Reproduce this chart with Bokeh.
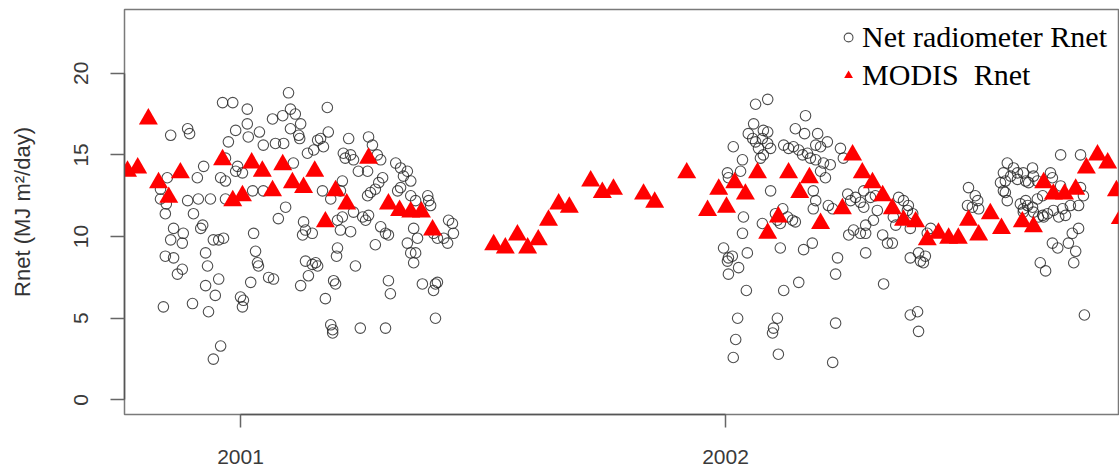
from bokeh.plotting import figure
from bokeh.models import FixedTicker, Legend, LegendItem, Range1d
from bokeh.embed import file_html
from bokeh.resources import INLINE

# Net radiometer Rnet (daily), x = decimal year, y = MJ m-2 day-1
net_year = [
    2001.099, 2000.963, 2000.984, 2001.014, 2001.103, 2001.113, 2001.066, 2001.087, 2001.014, 2000.990,
    2000.856, 2000.891, 2000.895, 2001.039, 2001.016, 2001.103, 2001.120, 2001.122, 2000.975, 2001.047,
    2001.072, 2001.089, 2001.138, 2000.969, 2000.924, 2000.911, 2000.849, 2000.959, 2000.969, 2001.004,
    2000.990, 2000.994, 2001.109, 2001.025, 2001.047, 2000.835, 2000.847, 2000.845, 2000.891, 2000.913,
    2000.938, 2000.903, 2000.969, 2001.093, 2001.078, 2001.130, 2001.128, 2000.922, 2000.918, 2000.862,
    2000.882, 2000.856, 2000.880, 2000.944, 2000.965, 2000.955, 2001.027, 2000.845, 2000.862, 2000.928,
    2001.031, 2000.932, 2001.035, 2001.037, 2000.880, 2000.870, 2001.134, 2000.955, 2000.928, 2001.058,
    2001.068, 2001.021, 2001.124, 2000.948, 2001.000, 2001.006, 2001.004, 2000.841, 2000.901, 2000.934,
    2000.959, 2000.944, 2000.835,
    2001.179, 2001.181, 2001.159, 2001.151, 2001.171, 2001.165, 2001.223, 2001.264, 2001.272, 2001.212,
    2001.227, 2001.233, 2001.216, 2001.282, 2001.289, 2001.320, 2001.330, 2001.336, 2001.344, 2001.351,
    2001.243, 2001.262, 2001.293, 2001.285, 2001.210, 2001.206, 2001.169, 2001.186, 2001.124, 2001.262,
    2001.268, 2001.278, 2001.324, 2001.330, 2001.351, 2001.361, 2001.386, 2001.388, 2001.392, 2001.233,
    2001.252, 2001.264, 2001.258, 2001.210, 2001.200, 2001.134, 2001.148, 2001.206, 2001.227, 2001.289,
    2001.299, 2001.305, 2001.357, 2001.365, 2001.429, 2001.437, 2001.439, 2001.427, 2001.419, 2001.406,
    2001.398, 2001.344, 2001.278, 2001.200, 2001.198, 2001.351, 2001.361, 2001.357, 2001.155, 2001.159,
    2001.148, 2001.237, 2001.140, 2001.196, 2001.192, 2001.305, 2001.309, 2001.375, 2001.402, 2001.398,
    2001.406, 2001.175, 2001.186, 2001.190, 2001.190, 2001.247, 2001.299, 2001.402,
    2002.062, 2002.087, 2002.058, 2002.078, 2002.087, 2002.047, 2002.056, 2002.062, 2002.076, 2002.068,
    2002.093, 2002.087, 2002.072, 2002.078, 2002.016, 2002.035, 2002.031, 2002.004, 2002.006, 2002.165,
    2002.144, 2002.163, 2002.190, 2002.210, 2002.196, 2002.186, 2002.120, 2002.130, 2002.140, 2002.151,
    2002.159, 2002.169, 2002.175, 2002.186, 2002.202, 2002.216, 2002.196, 2002.206, 2002.237, 2002.243,
    2002.093, 2002.181, 2002.186, 2002.181, 2002.212, 2002.221, 2002.252, 2002.268, 2002.278, 2002.285,
    2002.258, 2002.037, 2002.035, 2002.076, 2002.103, 2002.118, 2002.128, 2002.138, 2002.144, 2002.107,
    2002.113, 2002.254, 2002.264, 2002.278, 2002.289, 2002.289, 2002.179, 2002.161, 2002.113, 2002.045,
    2001.996, 2002.006, 2002.004, 2002.014, 2002.027, 2002.006, 2002.231, 2002.227, 2002.151, 2002.043,
    2002.120, 2002.025, 2002.021, 2002.016, 2002.107, 2002.099, 2002.097, 2002.109, 2002.227, 2002.221,
    2002.501, 2002.515, 2002.520, 2002.499, 2002.509, 2002.522, 2002.581, 2002.594, 2002.602, 2002.614,
    2002.619, 2002.573, 2002.567, 2002.577, 2002.581, 2002.608, 2002.614, 2002.285, 2002.299, 2002.309,
    2002.357, 2002.367, 2002.377, 2002.386, 2002.375, 2002.313, 2002.305, 2002.289, 2002.346, 2002.351,
    2002.381, 2002.324, 2002.334, 2002.344, 2002.423, 2002.416, 2002.381, 2002.398, 2002.412, 2002.402,
    2002.408, 2002.326, 2002.381, 2002.396, 2002.398,
    2002.691, 2002.732, 2002.588, 2002.577, 2002.602, 2002.633, 2002.635, 2002.643, 2002.670, 2002.674,
    2002.625, 2002.573, 2002.619, 2002.623, 2002.633, 2002.643, 2002.654, 2002.691, 2002.732, 2002.738,
    2002.728, 2002.711, 2002.695, 2002.676, 2002.664, 2002.654, 2002.701, 2002.687, 2002.614, 2002.635,
    2002.645, 2002.656, 2002.728, 2002.715, 2002.707, 2002.722, 2002.718, 2002.674, 2002.685, 2002.649,
    2002.660, 2002.740,
]
net_rnet = [
    18.8, 18.2, 18.2, 17.8, 17.8, 17.5, 17.2, 17.4, 16.9, 16.5,
    16.2, 16.6, 16.3, 16.4, 16.1, 16.6, 16.2, 16.0, 15.8, 15.6,
    15.7, 15.7, 15.1, 14.8, 14.3, 13.6, 13.6, 13.6, 13.4, 13.9,
    14.0, 14.3, 14.5, 12.8, 12.8, 12.3, 12.0, 11.4, 12.2, 12.3,
    12.3, 11.4, 12.3, 11.8, 11.1, 10.9, 10.1, 10.7, 10.5, 10.5,
    10.2, 9.8, 9.6, 9.8, 9.9, 9.8, 10.2, 8.8, 8.7, 9.0,
    9.1, 8.2, 8.4, 8.2, 8.0, 7.7, 8.5, 7.4, 7.0, 7.5,
    7.4, 7.2, 7.0, 6.4, 6.3, 6.1, 5.7, 5.7, 5.9, 5.4,
    3.3, 2.5, 12.9,
    17.9, 16.4, 15.9, 15.3, 15.5, 16.0, 16.0, 16.1, 15.6, 15.1,
    15.0, 14.7, 14.8, 15.0, 14.7, 14.5, 14.2, 13.7, 14.0, 13.4,
    14.0, 14.0, 13.6, 13.3, 13.4, 12.8, 12.8, 12.3, 16.9, 12.5,
    12.7, 12.9, 12.8, 13.0, 12.5, 12.2, 12.5, 12.2, 11.9, 11.5,
    11.2, 11.3, 11.0, 11.2, 11.0, 10.4, 10.2, 10.4, 10.3, 10.6,
    10.2, 10.1, 10.5, 9.9, 11.0, 10.8, 10.2, 9.6, 9.9, 9.9,
    10.2, 9.6, 9.5, 9.3, 8.8, 9.0, 9.0, 8.4, 8.4, 8.2,
    8.3, 8.2, 7.6, 7.1, 7.3, 7.3, 6.5, 7.1, 7.1, 6.7,
    7.2, 6.2, 4.6, 4.1, 4.3, 4.4, 4.4, 5.0,
    18.1, 18.4, 16.9, 16.5, 16.4, 16.3, 16.0, 15.8, 16.0, 15.4,
    15.4, 15.7, 14.8, 15.0, 15.5, 14.7, 14.0, 13.9, 13.6, 17.4,
    16.6, 16.3, 16.3, 15.8, 15.5, 15.6, 15.6, 15.4, 15.5, 15.3,
    15.0, 15.1, 14.8, 14.7, 14.5, 14.4, 14.0, 13.6, 15.4, 14.8,
    12.8, 12.8, 12.2, 11.7, 11.9, 11.7, 12.6, 12.4, 12.1, 11.8,
    12.2, 11.2, 10.2, 10.8, 11.4, 11.7, 11.2, 11.0, 10.9, 11.0,
    10.8, 10.1, 10.4, 10.2, 10.7, 9.0, 9.6, 9.2, 9.3, 9.0,
    9.3, 8.7, 8.5, 8.8, 8.1, 7.7, 8.7, 7.7, 7.2, 6.7,
    6.7, 5.0, 3.7, 2.6, 5.0, 4.4, 4.1, 2.8, 4.7, 2.3,
    13.0, 12.5, 12.2, 11.9, 11.8, 11.7, 14.5, 14.2, 13.9, 13.9,
    13.4, 13.9, 13.3, 12.7, 12.2, 12.0, 11.7, 12.8, 12.4, 12.5,
    12.4, 12.2, 11.9, 11.4, 11.6, 11.6, 11.0, 10.2, 11.2, 10.7,
    10.5, 10.1, 9.6, 9.6, 10.5, 10.2, 8.7, 9.0, 8.8, 8.5,
    8.4, 7.1, 5.2, 5.4, 4.2,
    15.0, 15.0, 13.7, 13.4, 13.5, 14.2, 13.7, 13.4, 13.9, 13.6,
    13.3, 12.8, 12.2, 11.9, 11.8, 12.3, 12.5, 13.1, 13.0, 12.5,
    11.9, 11.9, 11.7, 11.6, 11.4, 11.3, 11.3, 11.2, 11.5, 11.5,
    11.2, 11.2, 10.5, 10.2, 9.6, 9.1, 8.4, 9.6, 9.3, 8.4,
    7.9, 5.2,
]

# MODIS Rnet (8-day composites)
modis_year = [
    2000.767, 2000.788, 2000.810, 2000.831, 2000.852, 2000.876, 2000.963, 2000.984, 2001.004, 2001.023,
    2001.045, 2001.066, 2001.087, 2001.107, 2001.130, 2001.153, 2001.175, 2001.196, 2001.219, 2001.264,
    2001.305, 2001.328, 2001.351, 2001.373, 2001.396, 2001.522, 2001.546, 2001.571, 2001.592, 2001.614,
    2001.635, 2001.656, 2001.678, 2001.722, 2001.746, 2001.769, 2001.831, 2001.854, 2001.920, 2001.963,
    2001.986, 2002.002, 2002.019, 2002.041, 2002.066, 2002.087, 2002.109, 2002.130, 2002.153, 2002.173,
    2002.196, 2002.241, 2002.262, 2002.282, 2002.303, 2002.324, 2002.344, 2002.367, 2002.392, 2002.416,
    2002.439, 2002.460, 2002.480, 2002.501, 2002.522, 2002.546, 2002.569, 2002.612, 2002.635, 2002.656,
    2002.676, 2002.699, 2002.722, 2002.744, 2002.767, 2002.788, 2002.806, 2002.814,
]
modis_rnet = [
    14.0, 14.2, 17.2, 13.3, 12.4, 13.9, 14.7, 12.2, 12.5, 14.5,
    14.0, 12.8, 14.4, 13.3, 13.0, 14.0, 10.9, 12.8, 12.0, 14.8,
    12.0, 11.6, 11.5, 11.5, 10.4, 9.5, 9.3, 10.1, 9.3, 9.8,
    11.0, 12.0, 11.8, 13.4, 12.7, 12.9, 12.6, 12.1, 13.9, 11.6,
    12.9, 11.8, 13.3, 12.6, 13.9, 10.2, 11.2, 13.9, 12.7, 13.6,
    10.8, 11.7, 15.0, 13.9, 13.3, 12.5, 11.7, 11.0, 10.9, 9.8,
    10.2, 9.9, 9.9, 11.0, 10.1, 11.4, 10.5, 10.9, 10.6, 13.3,
    12.6, 12.6, 12.9, 14.2, 15.0, 14.5, 12.8, 11.1,
]

y_ticks = [0, 5, 10, 15, 20]
x_ticks = [2001, 2002]
x_tick_labels = ["2001", "2002"]
y_label = "Rnet (MJ m\u00b2/day)"
legend_labels = ["Net radiometer Rnet", "MODIS  Rnet"]

p = figure(width=1119, height=474, output_backend="svg", toolbar_location=None,
           x_range=Range1d(2000.7608, 2002.8103), y_range=Range1d(-0.89, 23.9),
           min_border_left=124, min_border_right=1, min_border_top=9, min_border_bottom=60)

p.background_fill_color = "white"
p.border_fill_color = "white"
p.grid.visible = False
p.outline_line_color = "#7a7a7a"
p.outline_line_width = 1.5

r_net = p.scatter(net_year, net_rnet, marker="circle", size=10.5, fill_color=None,
                  line_color="#222222", line_alpha=0.8, line_width=1.1)
r_mod = p.scatter(modis_year, modis_rnet, marker="triangle", size=19, fill_color="red",
                  line_color=None)

xa = p.xaxis[0]
xa.ticker = FixedTicker(ticks=x_ticks, minor_ticks=[])
xa.major_label_overrides = {t: l for t, l in zip(x_ticks, x_tick_labels)}
xa.bounds = (x_ticks[0], x_ticks[-1])

ya = p.yaxis[0]
ya.ticker = FixedTicker(ticks=y_ticks, minor_ticks=[])
ya.bounds = (y_ticks[0], y_ticks[-1])
ya.major_label_orientation = "vertical"
ya.axis_label = y_label
ya.axis_label_text_font = "Liberation Sans"
ya.axis_label_text_font_size = "22px"
ya.axis_label_text_font_style = "normal"
ya.axis_label_text_color = "#333333"
ya.axis_label_standoff = 37

for ax in (xa, ya):
    ax.axis_line_color = "#555555"
    ax.axis_line_width = 1.5
    ax.major_tick_line_color = "#666666"
    ax.major_tick_line_width = 1.5
    ax.major_tick_in = 0
    ax.major_label_text_font = "Liberation Sans"
    ax.major_label_text_font_size = "21px"
    ax.major_label_text_color = "#3a3a3a"
ya.major_tick_out = 14
ya.major_label_standoff = 22
xa.major_tick_out = 13
xa.major_label_standoff = 22

legend = Legend(items=[LegendItem(label=legend_labels[0], renderers=[r_net]),
                       LegendItem(label=legend_labels[1], renderers=[r_mod])],
                location="top_right")
legend.margin = 11
legend.padding = 12
legend.spacing = 4
legend.border_line_color = None
legend.background_fill_alpha = 0
legend.glyph_width = 22
legend.glyph_height = 22
legend.label_standoff = 3
legend.label_text_font = "Liberation Serif"
legend.label_text_font_size = "30px"
legend.label_text_color = "black"
p.add_layout(legend)

open("out.html", "w").write(file_html(p, INLINE))
